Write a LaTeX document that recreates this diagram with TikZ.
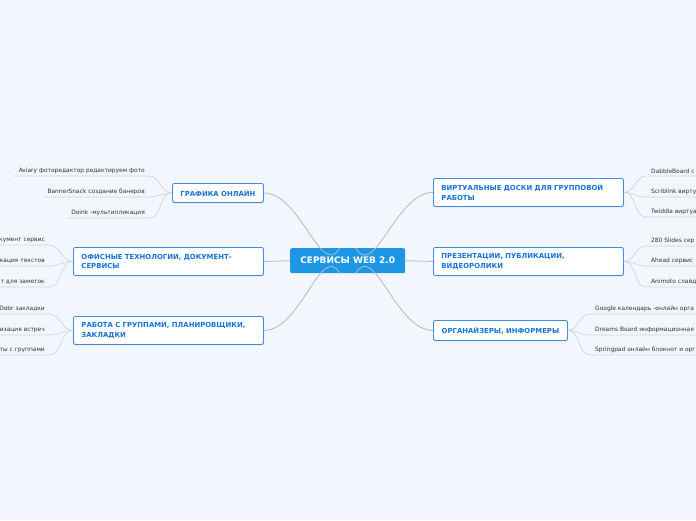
\documentclass[tikz,border=0pt]{standalone}
\usepackage{fontspec}
\setmainfont{DejaVu Sans}
\usetikzlibrary{shadows}

\definecolor{pagebg}{HTML}{F3F6FD}
\definecolor{hubblue}{HTML}{1E96E6}
\definecolor{topicedge}{HTML}{3D8EE3}
\definecolor{topictext}{HTML}{1774D6}
\definecolor{branchgray}{HTML}{B4B8C0}
\definecolor{twiggray}{HTML}{D2D6DC}
\definecolor{leaftext}{HTML}{333333}

\tikzset{
  hub/.style={fill=hubblue, text=white, rounded corners=2pt, anchor=north west,
    minimum width=115pt, minimum height=25pt, inner sep=0pt,
    font=\bfseries\fontsize{9}{10}\selectfont},
  topic/.style={draw=topicedge, fill=white, line width=0.9pt, rounded corners=2pt,
    anchor=north west, text=topictext, inner sep=0pt,
    font=\bfseries\fontsize{6.9}{9.5}\selectfont,
    drop shadow={shadow xshift=0.6pt, shadow yshift=-0.8pt, opacity=0.25}},
  widetopic/.style={topic, text width=174pt, align=left, inner xsep=8pt, minimum height=28pt},
  leafl/.style={anchor=south east, text=leaftext, inner xsep=4pt, inner ysep=2pt,
    font=\fontsize{5.9}{6.5}\selectfont},
  leafcut/.style={leafl, text width=60pt, align=right},
  leafr/.style={anchor=south west, text=leaftext, inner xsep=5pt, inner ysep=2pt,
    text width=120pt, align=left, font=\fontsize{5.9}{6.5}\selectfont},
  branch/.style={draw=branchgray, line width=0.8pt},
  twig/.style={draw=twiggray, line width=0.7pt},
}

\begin{document}
\begin{tikzpicture}[x=1pt, y=-1pt]
  \useasboundingbox (0,0) rectangle (696,520);
  \fill[pagebg] (0,0) rectangle (696,520);
  \clip (0,0) rectangle (696,520);

  % centre and topics
  \node[hub] (hub) at (290,248) {СЕРВИСЫ WEB 2.0};
  \node[topic, minimum width=91pt, minimum height=19pt] (graph) at (172,183) {ГРАФИКА ОНЛАЙН};
  \node[widetopic] (office) at (73,247) {ОФИСНЫЕ ТЕХНОЛОГИИ, ДОКУМЕНТ-\\СЕРВИСЫ};
  \node[widetopic] (groups) at (73,316) {РАБОТА С ГРУППАМИ, ПЛАНИРОВЩИКИ,\\ЗАКЛАДКИ};
  \node[widetopic] (boards) at (433,178) {ВИРТУАЛЬНЫЕ ДОСКИ ДЛЯ ГРУППОВОЙ\\РАБОТЫ};
  \node[widetopic] (present) at (433,247) {ПРЕЗЕНТАЦИИ, ПУБЛИКАЦИИ,\\ВИДЕОРОЛИКИ};
  \node[topic, minimum width=134pt, minimum height=20pt] (organ) at (433,320) {ОРГАНАЙЗЕРЫ, ИНФОРМЕРЫ};

  \draw[branch] ([xshift=-8pt]hub.north) to[out=240, in=0] (graph.east);
  \draw[branch] (hub.west) -- (office.east);
  \draw[branch] ([xshift=-8pt]hub.south) to[out=120, in=0] (groups.east);
  \draw[branch] ([xshift=8pt]hub.north) to[out=300, in=180] (boards.west);
  \draw[branch] (hub.east) -- (present.west);
  \draw[branch] ([xshift=8pt]hub.south) to[out=60, in=180] (organ.west);

  % left leaves
  \node[leafl] (aviary) at (149,176) {Aviary фоторедактор редактируем фото};
  \node[leafl] (banner) at (149,197) {BannerSnack создание банеров};
  \node[leafl] (doink) at (149,218) {Doink -мультипликация};
  \node[leafcut] (docsrv) at (49,245) {кумент сервис};
  \node[leafcut] (publ) at (49,266) {ликация текстов};
  \node[leafcut] (notes) at (49,287) {от для заметок};
  \node[leafcut] (dobr) at (49,314) {Dobr закладки};
  \node[leafcut] (meet) at (49,335) {изация встреч};
  \node[leafcut] (team) at (49,355) {ты с группами};

  \foreach \leaf in {aviary, banner, doink}
    \draw[twig] (graph.west) to[out=180, in=0] (\leaf.south east) -- (\leaf.south west);
  \foreach \leaf in {docsrv, publ, notes}
    \draw[twig] (office.west) to[out=180, in=0] (\leaf.south east) -- (\leaf.south west);
  \foreach \leaf in {dobr, meet, team}
    \draw[twig] (groups.west) to[out=180, in=0] (\leaf.south east) -- (\leaf.south west);

  % right leaves
  \node[leafr] (dabble) at (646,176) {DabbleBoard с};
  \node[leafr] (scrib) at (646,197) {Scriblink виртуа};
  \node[leafr] (twid) at (646,217) {Twiddla виртуа};
  \node[leafr] (slides) at (646,246) {280 Slides сер};
  \node[leafr] (ahead) at (646,266) {Ahead сервис};
  \node[leafr] (animoto) at (646,287) {Animoto слайд};
  \node[leafr] (gcal) at (590,314) {Google календарь -онлайн орга};
  \node[leafr] (dreams) at (590,335) {Dreams Board информационная};
  \node[leafr] (spring) at (590,355) {Springpad онлайн блокнот и орг};

  \foreach \leaf in {dabble, scrib, twid}
    \draw[twig] (boards.east) to[out=0, in=180] (\leaf.south west) -- (\leaf.south east);
  \foreach \leaf in {slides, ahead, animoto}
    \draw[twig] (present.east) to[out=0, in=180] (\leaf.south west) -- (\leaf.south east);
  \foreach \leaf in {gcal, dreams, spring}
    \draw[twig] (organ.east) to[out=0, in=180] (\leaf.south west) -- (\leaf.south east);
\end{tikzpicture}
\end{document}
